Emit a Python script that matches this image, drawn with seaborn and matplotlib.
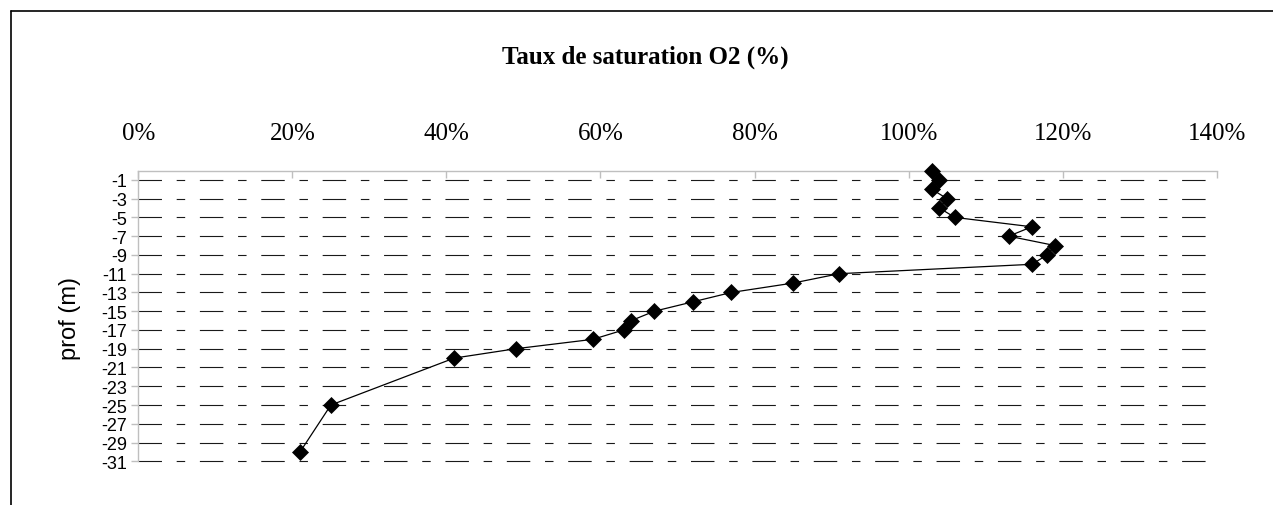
import matplotlib
matplotlib.use("Agg")
import matplotlib.pyplot as plt
import seaborn as sns
from matplotlib.lines import Line2D

# O2 saturation profile: depth (m) and saturation (%)
depth = [0, -1, -2, -3, -4, -5, -6, -7, -8, -9, -10,
         -11, -12, -13, -14, -15, -16, -17, -18, -19, -20, -25, -30]
saturation = [103, 104, 103, 105, 104, 106, 116, 113, 119, 118, 116,
              91, 85, 77, 72, 67, 64, 63, 59, 49, 41, 25, 21]

x_ticks = [0, 20, 40, 60, 80, 100, 120, 140]
x_tick_labels = ["0%", "20%", "40%", "60%", "80%", "100%", "120%", "140%"]
y_ticks = [-1, -3, -5, -7, -9, -11, -13, -15, -17, -19, -21, -23, -25, -27, -29, -31]
y_tick_labels = [str(v) for v in y_ticks]

title = "Taux de saturation O2 (%)"
y_label = "prof (m)"

sns.set_theme(style="white")
plt.rcParams["lines.scale_dashes"] = False

W, H = 1273, 506
fig = plt.figure(figsize=(W / 100, H / 100), dpi=100)
fig.patch.set_facecolor("white")

left, right, top, bottom = 138.3, 1216.7, 171.5, 462.3
ax = fig.add_axes([left / W, 1 - bottom / H, (right - left) / W, (bottom - top) / H])
ax.set_facecolor("white")

sns.lineplot(x=saturation, y=depth, sort=False, estimator=None, ax=ax,
             color="black", linewidth=0.9, marker="D", markersize=8.5,
             markeredgecolor="black", markeredgewidth=0.5, markerfacecolor="black",
             clip_on=False, zorder=5)

ax.set_xlim(0, 140)
ax.set_ylim(-31, 0)

ax.xaxis.tick_top()
ax.set_xticks(x_ticks)
ax.set_xticklabels(x_tick_labels, fontfamily="Liberation Serif", fontsize=18, color="black")
ax.tick_params(axis="x", direction="in", length=5, width=1, color="#bfbfbf", pad=19,
               top=True, bottom=False)

ax.set_yticks(y_ticks)
ax.set_yticklabels(y_tick_labels, fontfamily="Liberation Sans", fontsize=13, color="black")
ax.tick_params(axis="y", direction="out", length=5, width=1, color="#bfbfbf", pad=3, left=True)

ax.set_xlabel("")
ax.set_ylabel("")

for side in ("right", "bottom"):
    ax.spines[side].set_visible(False)
for side in ("top", "left"):
    ax.spines[side].set_color("#bfbfbf")
    ax.spines[side].set_linewidth(1.0)

ax.set_axisbelow(True)
ax.xaxis.grid(False)
ax.yaxis.grid(True, color="#1a1a1a", linewidth=0.8,
              linestyle=(0, (16.9, 10.6, 6.1, 10.6)))
for gl in ax.yaxis.get_gridlines():
    gl.set_clip_on(False)

# chart frame
fig.add_artist(Line2D([11 / W, 1], [1 - 12 / H, 1 - 12 / H], transform=fig.transFigure,
                      color="black", linewidth=1.2))
fig.add_artist(Line2D([11 / W, 11 / W], [0, 1 - 12 / H], transform=fig.transFigure,
                      color="black", linewidth=1.2))

fig.text(645 / W, 1 - 57 / H, title, ha="center", va="center",
         fontfamily="Liberation Serif", fontweight="bold", fontsize=18, color="black")
fig.text(69.7 / W, 1 - 318 / H, y_label, rotation=90, ha="center", va="center",
         fontfamily="Liberation Sans", fontsize=17, color="black")

fig.savefig("out.png", dpi=100, facecolor="white")
